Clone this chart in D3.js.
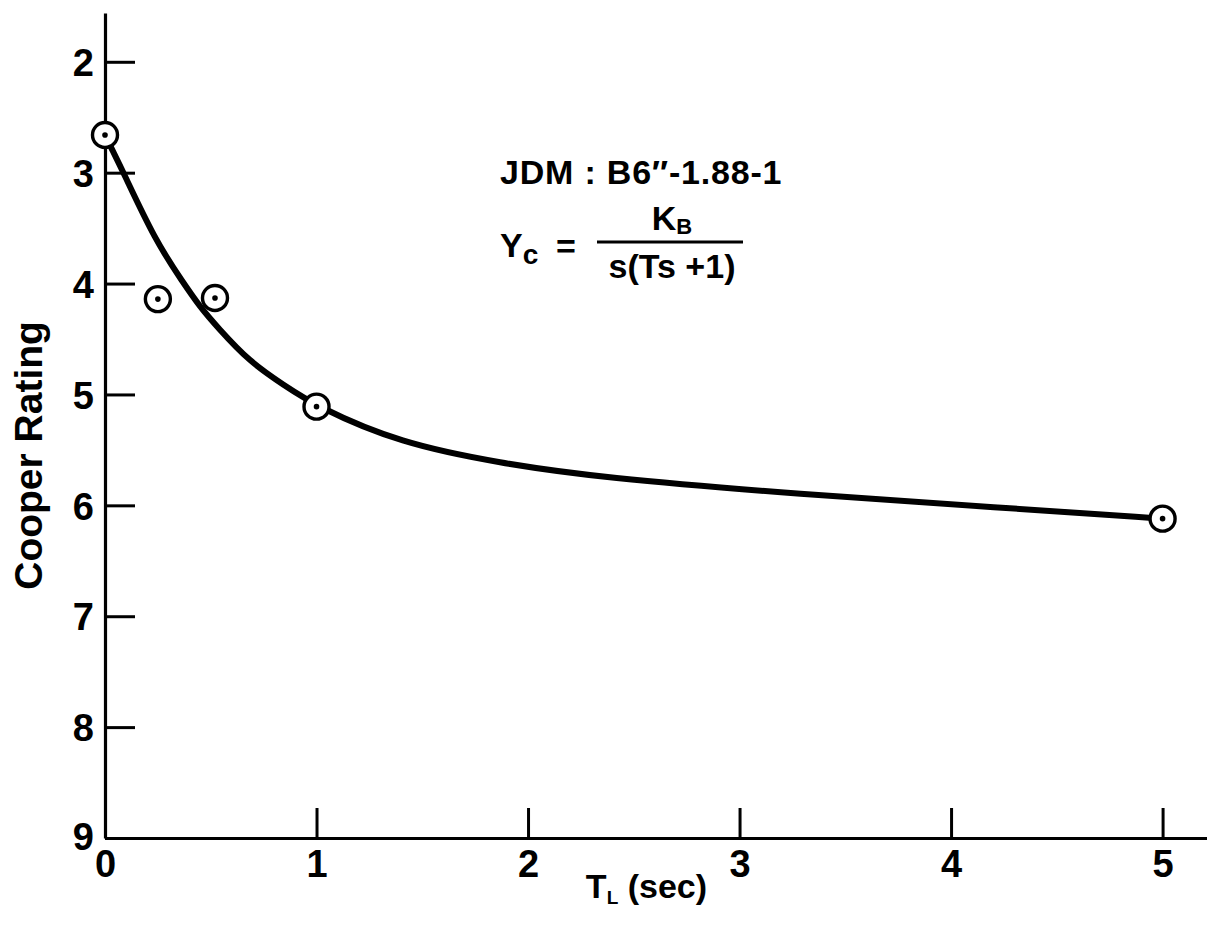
<!DOCTYPE html>
<html>
<head>
<meta charset="utf-8">
<script src="https://cdn.jsdelivr.net/npm/d3@7"></script>
<style>
  html, body { margin: 0; padding: 0; background: #fff; }
  svg { display: block; }
  text { font-family: "Liberation Sans", Arial, sans-serif; font-weight: bold; fill: #000; }
</style>
</head>
<body>
<svg id="chart" width="1207" height="926"></svg>
<script>
// ---- data ----
const xTicks = [0, 1, 2, 3, 4, 5];
const yTicks = [2, 3, 4, 5, 6, 7, 8, 9];
const pointT = [0, 0.25, 0.52, 1.0, 5.0];          // T_L (sec)
const pointRating = [2.66, 4.14, 4.13, 5.11, 6.12];  // Cooper rating
// faired curve
const curveT = [0, 0.033, 0.085, 0.237, 0.369, 0.449, 0.53, 0.686, 0.842, 1.0, 1.395, 1.868, 2.34, 3.29, 4.23, 5.0];
const curveRating = [2.66, 2.79, 2.99, 3.61, 3.99, 4.21, 4.39, 4.71, 4.91, 5.11, 5.44, 5.62, 5.75, 5.90, 6.02, 6.12];
const xLabel = "T";
const xLabelSub = "L";
const xLabelRest = " (sec)";
const yLabel = "Cooper Rating";
const noteLine1 = "JDM : B6\u2033-1.88-1";

// ---- layout ----
const svg = d3.select("#chart");
const x = d3.scaleLinear().domain([0, 5.21]).range([105, 1207]);
const y = d3.scaleLinear().domain([1.56, 9]).range([13, 838]);

// axes
const yAxis = d3.axisLeft(y).tickValues(yTicks).tickFormat(d3.format("d"))
  .tickSizeInner(-30).tickSizeOuter(0).tickPadding(11);
const xAxis = d3.axisBottom(x).tickValues(xTicks).tickFormat(d3.format("d"))
  .tickSizeInner(-30).tickSizeOuter(0).tickPadding(11);

const gy = svg.append("g").attr("transform", `translate(${x(0)},0)`).call(yAxis);
const gx = svg.append("g").attr("transform", `translate(0,${y(9)})`).call(xAxis);

[gx, gy].forEach(g => {
  g.select(".domain").attr("stroke", "#000").attr("stroke-width", 3.2);
  g.selectAll(".tick line").attr("stroke", "#000").attr("stroke-width", 3);
  g.selectAll(".tick text").style("font-family", '"Liberation Sans", Arial, sans-serif')
    .style("font-weight", "bold").attr("font-size", 38).attr("fill", "#000");
});
gy.selectAll(".tick text").attr("dy", "0.36em");
gy.selectAll(".tick").filter(d => d === 9).select("text").attr("dy", "0.3em");
gx.selectAll(".tick text").attr("dy", "0.74em");

// axis titles
const xt = svg.append("text")
  .attr("x", x(2.56)).attr("y", 898)
  .attr("text-anchor", "middle").attr("font-size", 34);
xt.append("tspan").text(xLabel);
xt.append("tspan").text(xLabelSub).attr("font-size", 19).attr("dy", 6);
xt.append("tspan").text(xLabelRest).attr("dy", -6);

svg.append("text")
  .attr("transform", `translate(42,${y(5.55)}) rotate(-90)`)
  .attr("text-anchor", "middle").attr("font-size", 39)
  .text(yLabel);

// faired curve
const curveData = curveT.map((t, i) => ({ t, r: curveRating[i] }));
const line = d3.line().x(d => x(d.t)).y(d => y(d.r)).curve(d3.curveBasis);
svg.append("path").datum(curveData)
  .attr("d", line).attr("fill", "none")
  .attr("stroke", "#000").attr("stroke-width", 6)
  .attr("stroke-linecap", "round");

// data points: circle with centre dot
const pts = pointT.map((t, i) => ({ t, r: pointRating[i] }));
const pg = svg.append("g").selectAll("g").data(pts).join("g")
  .attr("transform", d => `translate(${x(d.t)},${y(d.r)})`);
pg.append("circle").attr("r", 12.5).attr("fill", "#fff")
  .attr("stroke", "#000").attr("stroke-width", 3.4);
pg.append("circle").attr("r", 2.8).attr("fill", "#000");

// annotation
svg.append("text").attr("x", 500).attr("y", 184).attr("font-size", 34)
  .attr("letter-spacing", 0.8)
  .text(noteLine1);
const yc = svg.append("text").attr("x", 500).attr("y", 257).attr("font-size", 34);
yc.append("tspan").text("Y");
yc.append("tspan").text("c").attr("dy", 7).attr("font-size", 28);
svg.append("text").attr("x", 556).attr("y", 258).attr("font-size", 34).text("=");
const kb = svg.append("text").attr("x", 672).attr("y", 230).attr("text-anchor", "middle").attr("font-size", 34);
kb.append("tspan").text("K");
kb.append("tspan").text("B").attr("dy", 4).attr("font-size", 22);
svg.append("line").attr("x1", 597).attr("x2", 743).attr("y1", 242).attr("y2", 242)
  .attr("stroke", "#000").attr("stroke-width", 3);
svg.append("text").attr("x", 672).attr("y", 278).attr("text-anchor", "middle").attr("font-size", 34)
  .text("s(Ts +1)");
</script>
</body>
</html>
